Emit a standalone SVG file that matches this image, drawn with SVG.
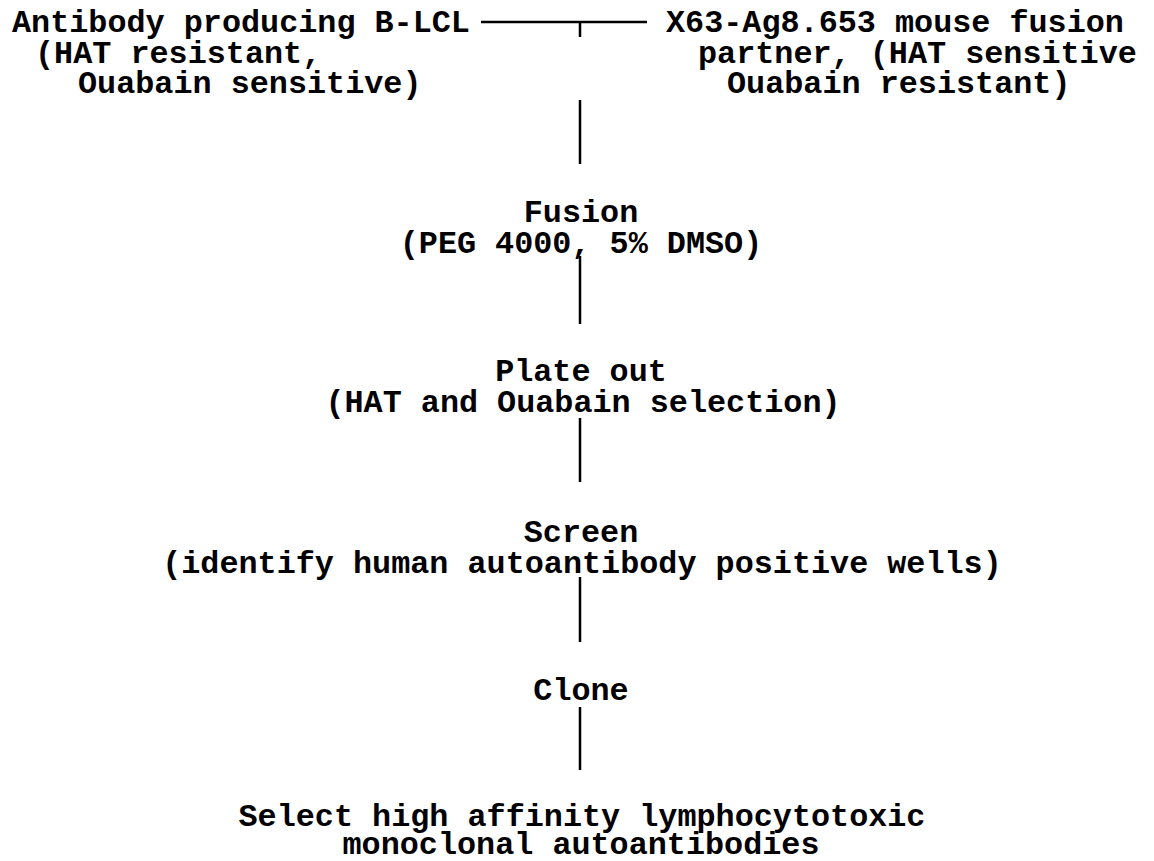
<svg xmlns="http://www.w3.org/2000/svg" width="1154" height="861" viewBox="0 0 1154 861">
<style>
text{font-family:"Liberation Mono","Courier New",monospace;font-weight:bold;font-size:31.8px;fill:#000}
.c{text-anchor:middle}
.ln{stroke:#000;stroke-width:2.5;fill:none}
</style>
<rect width="1154" height="861" fill="#fff"/>
<g id="connectors">
<path class="ln" d="M481 22 H647"/>
<path class="ln" d="M580 22 V37"/>
<path class="ln" d="M580 100 V164"/>
<path class="ln" d="M580 256 V324"/>
<path class="ln" d="M580 418 V482"/>
<path class="ln" d="M580 577 V642"/>
<path class="ln" d="M580 707 V770"/>
</g>
<g id="node-blcl">
<text x="12" y="32">Antibody producing B-LCL</text>
<text x="35" y="63">(HAT resistant,</text>
<text x="78" y="93">Ouabain sensitive)</text>
</g>
<g id="node-x63">
<text x="666" y="32">X63-Ag8.653 mouse fusion</text>
<text x="698" y="63">partner, (HAT sensitive</text>
<text x="727" y="93">Ouabain resistant)</text>
</g>
<g id="node-fusion">
<text class="c" x="581" y="222">Fusion</text>
<text class="c" x="581" y="253">(PEG 4000, 5% DMSO)</text>
</g>
<g id="node-plate">
<text class="c" x="581" y="381">Plate out</text>
<text class="c" x="583" y="412">(HAT and Ouabain selection)</text>
</g>
<g id="node-screen">
<text class="c" x="581" y="542">Screen</text>
<text class="c" x="582" y="573">(identify human autoantibody positive wells)</text>
</g>
<g id="node-clone">
<text class="c" x="581" y="700">Clone</text>
</g>
<g id="node-select">
<text class="c" x="582" y="826">Select high affinity lymphocytotoxic</text>
<text class="c" x="581" y="854">monoclonal autoantibodies</text>
</g>
</svg>
